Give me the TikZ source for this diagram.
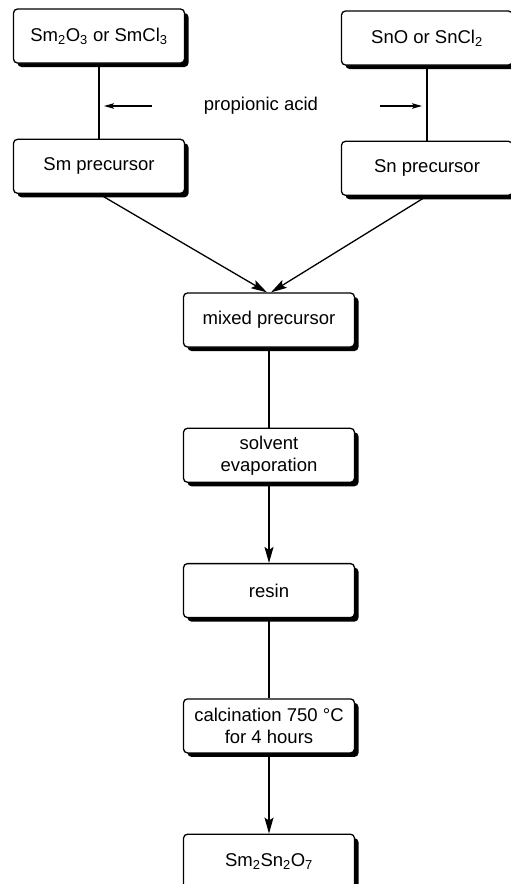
\documentclass[tikz,border=0pt]{standalone}
\usepackage{fontspec}
\setmainfont{Liberation Sans}
\usetikzlibrary{arrows.meta, positioning, shadows}

\begin{document}
\begin{tikzpicture}[
    x=1pt, y=-1pt,
    font=\fontsize{18.5}{22}\selectfont,
    stage/.style={draw=black, line width=1.3pt, rounded corners=4pt, fill=white,
        align=center, minimum width=171pt, minimum height=54pt, inner sep=3pt,
        drop shadow={shadow xshift=4pt, shadow yshift=-4pt, fill=black, opacity=1}},
    link/.style={line width=1.3pt, black},
    flow/.style={link, -{Stealth[length=16pt, width=9pt, inset=3pt]}},
    feed/.style={line width=1.1pt, -{Stealth[length=10pt, width=5.5pt, inset=2pt]}},
]
\useasboundingbox (0,0) rectangle (511,884);

% ================= starting materials =================
\node[stage] (smox) at (99,36) {Sm\textsubscript{2}O\textsubscript{3} or SmCl\textsubscript{3}};
\node[stage, below=75pt of smox] (smpre) {Sm precursor};
\node[stage] (snox) at (427,38) {SnO or SnCl\textsubscript{2}};
\node[stage, below=75pt of snox] (snpre) {Sn precursor};
\draw[link] (smox) -- (smpre);
\draw[link] (snox) -- (snpre);

% propionic acid goes into both
\node (acid) at (261,106) {propionic acid};
\coordinate (acidl) at (152,106);
\coordinate (acidr) at (380,106);
\draw[feed, shorten >=5pt] (acidl) -- (smox.south |- acidl);
\draw[feed, shorten >=5pt] (acidr) -- (snox.south |- acidr);

% ================= main line =================
\node[stage] (mix) at (269,320) {mixed precursor};
\node[stage, below=80pt of mix] (solv) {solvent\\evaporation};
\node[stage, below=80pt of solv] (resin) {resin};
\node[stage, below=80pt of resin] (calc) {calcination 750 °C\\for 4 hours};
\node[stage, below=80pt of calc] (prod) {Sm\textsubscript{2}Sn\textsubscript{2}O\textsubscript{7}};

\draw[flow] (smpre.south) -- ([xshift=-2pt]mix.north);
\draw[flow] (snpre.south) -- ([xshift=2pt]mix.north);
\draw[link] (mix) -- (solv);
\draw[flow] (solv) -- (resin);
\draw[link] (resin) -- (calc);
\draw[flow] (calc) -- (prod);

\end{tikzpicture}
\end{document}
